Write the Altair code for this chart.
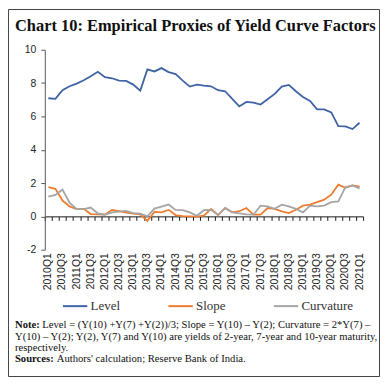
import altair as alt
import pandas as pd

quarters = [f"{y}Q{q}" for y in range(2010, 2022) for q in range(1, 5)][:45]

level = [7.09, 7.05, 7.57, 7.81, 7.97, 8.17, 8.41, 8.68, 8.35, 8.29, 8.15, 8.13,
         7.91, 7.55, 8.82, 8.70, 8.90, 8.66, 8.54, 8.15, 7.79, 7.91, 7.85, 7.81,
         7.57, 7.51, 7.05, 6.60, 6.87, 6.83, 6.71, 7.03, 7.35, 7.79, 7.89, 7.51,
         7.17, 6.93, 6.42, 6.42, 6.24, 5.42, 5.40, 5.24, 5.62]
slope = [1.76, 1.65, 0.95, 0.60, 0.43, 0.45, 0.14, 0.12, 0.10, 0.39, 0.31, 0.22,
         0.16, 0.12, -0.27, 0.27, 0.24, 0.39, 0.08, 0.02, 0.00, -0.02, 0.04, 0.45,
         0.08, 0.49, 0.24, 0.31, 0.50, 0.10, 0.10, 0.50, 0.45, 0.30, 0.20, 0.40,
         0.64, 0.70, 0.85, 1.00, 1.30, 1.90, 1.72, 1.86, 1.78]
curvature = [1.18, 1.29, 1.61, 0.82, 0.43, 0.43, 0.53, 0.18, 0.10, 0.24, 0.29, 0.33,
             0.20, 0.16, 0.00, 0.47, 0.59, 0.71, 0.39, 0.37, 0.24, 0.04, 0.37, 0.39,
             0.08, 0.51, 0.24, 0.18, 0.12, 0.10, 0.64, 0.60, 0.45, 0.70, 0.60, 0.45,
             0.24, 0.64, 0.60, 0.65, 0.85, 0.90, 1.75, 1.86, 1.68]

series_names = ["Level", "Slope", "Curvature"]
series_colors = ["#3F63A5", "#ED7D31", "#A5A5A5"]
y_ticks = [-2, 0, 2, 4, 6, 8, 10]

title_text = "Chart 10: Empirical Proxies of Yield Curve Factors"
note_label = "Note:"
note_line1 = "Level = (Y(10) +Y(7) +Y(2))/3; Slope = Y(10) \u2013 Y(2); Curvature = 2*Y(7) \u2013"
note_line2 = "Y(10) \u2013 Y(2); Y(2), Y(7) and Y(10) are yields of 2-year, 7-year and 10-year maturity,"
note_line3 = "respectively."
source_label = "Sources:"
source_text = "Authors' calculation; Reserve Bank of India."

df = pd.DataFrame({
    "Quarter": quarters * 3,
    "Series": ["Level"] * 45 + ["Slope"] * 45 + ["Curvature"] * 45,
    "Value": level + slope + curvature,
})

W, H = 320, 201
SANS = "Liberation Sans"
SERIF = "Liberation Serif"

x_scale = alt.Scale(type="band", domain=quarters, paddingInner=0, paddingOuter=0)
y_enc = alt.Y(
    "Value:Q",
    scale=alt.Scale(domain=[-2, 10], nice=False, zero=False),
    axis=alt.Axis(values=y_ticks, title=None, grid=False, tickSize=4,
                  labelPadding=5, domainColor="#595959", tickColor="#595959",
                  labelExpr="'' + datum.value",
                  labelFont=SANS, labelFontSize=10.5, labelColor="#262626"),
)

lines = alt.Chart(df).mark_line(strokeWidth=1.8).encode(
    x=alt.X("Quarter:O", scale=x_scale, bandPosition=0.5,
            axis=alt.Axis(orient="bottom", values=quarters[::2], labelAngle=-90,
                          ticks=False, tickSize=0, domain=False, title=None,
                          grid=False, labelPadding=3, labelFont=SANS,
                          labelFontSize=10.5, labelColor="#262626")),
    y=y_enc,
    color=alt.Color("Series:N",
                    scale=alt.Scale(domain=series_names, range=series_colors),
                    legend=alt.Legend(orient="none", legendX=17, legendY=244,
                                      direction="horizontal", title=None,
                                      symbolType="stroke", symbolSize=600,
                                      symbolStrokeWidth=2, labelFont=SERIF,
                                      labelFontSize=13, labelColor="#333333",
                                      labelOffset=2, columnPadding=44)),
)

tick_axis = alt.Chart(df).mark_point(opacity=0).encode(
    x=alt.X("Quarter:O", scale=x_scale, bandPosition=0.5,
            axis=alt.Axis(orient="bottom", offset=-H * 2 / 12, labels=False,
                          ticks=True, tickSize=4, tickBand="extent",
                          domain=True, domainColor="#1a1a1a", tickColor="#1a1a1a",
                          title=None, grid=False)),
    y=y_enc,
)

one = pd.DataFrame({"k": [0]})

border = alt.Chart(one).mark_rect(fillOpacity=0, stroke="#444444", strokeWidth=1).encode(
    x=alt.value(-36.5), x2=alt.value(W + 16.5),
    y=alt.value(-40.5), y2=alt.value(H + 127.5),
)


def txt(text, x, y, bold=False, size=10.7):
    return alt.Chart(one).mark_text(
        align="left", baseline="alphabetic", font=SERIF, fontSize=size,
        fontWeight="bold" if bold else "normal", color="#111111",
    ).encode(x=alt.value(x), y=alt.value(y), text=alt.value(text))


title = txt(title_text, -30, -19, True, 16.5)

notes = (
    txt(note_label, -30, 280, True)
    + txt(note_line1, -2.5, 280)
    + txt(note_line2, -30, 291.5)
    + txt(note_line3, -30, 302.5)
    + txt(source_label, -30, 313.5, True)
    + txt(source_text, 12, 313.5)
)

chart = alt.layer(border, title, tick_axis, lines, notes).resolve_axis(x="independent").properties(
    width=W, height=H,
    padding={"left": 37, "top": 41, "right": 17, "bottom": 128},
    autosize=alt.AutoSizeParams(type="none"),
    background="white",
).configure_view(strokeWidth=0)

chart.save("out.html", embed_options={"renderer": "svg", "actions": False})
